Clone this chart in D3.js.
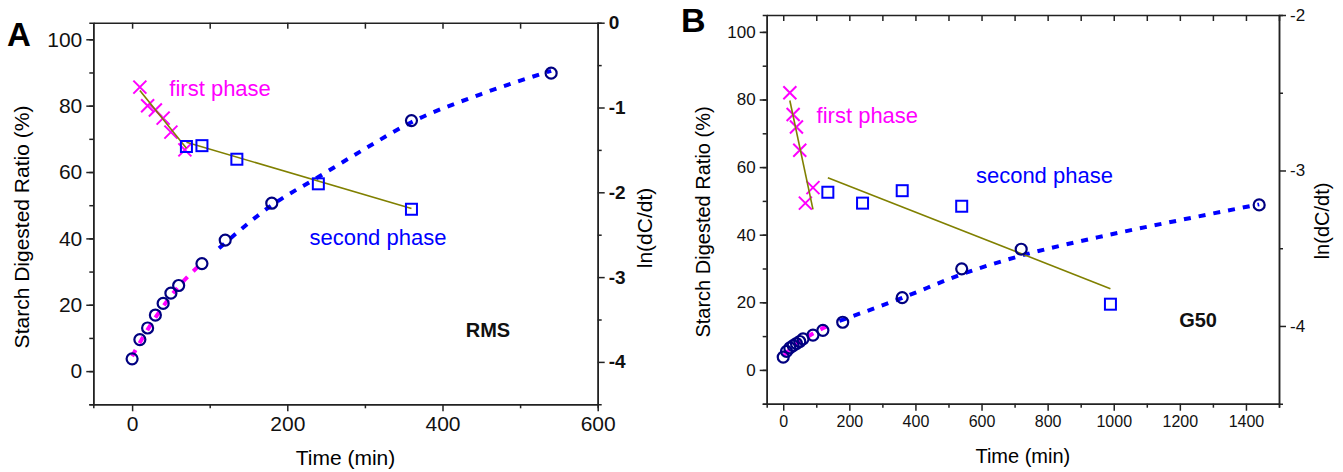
<!DOCTYPE html>
<html>
<head>
<meta charset="utf-8">
<script src="https://cdn.jsdelivr.net/npm/d3@7"></script>
<style>
  body { margin: 0; background: #fff; }
  svg { font-family: "Liberation Sans", Arial, sans-serif; }
</style>
</head>
<body>
<svg width="1343" height="472"></svg>
<script>
// ---- panel A (RMS) ----
var timeA = [0, 10, 20, 30, 40, 50, 60, 90, 120, 180, 360, 540];
var ratioA = [3.7, 9.5, 13, 16.9, 20.4, 23.5, 25.8, 32.4, 39.5, 50.6, 75.5, 89.8];
var crossTimeA = [10, 20, 30, 40, 50, 68];
var crossLnA = [-0.76, -0.98, -1.03, -1.125, -1.29, -1.5];
var squareTimeA = [70, 90, 135, 240, 360];
var squareLnA = [-1.46, -1.45, -1.61, -1.90, -2.20];
var fit1TimeA = [10, 70], fit1LnA = [-0.80, -1.48];
var fit2TimeA = [70, 360], fit2LnA = [-1.41, -2.19];
var dashPinkTimeA = [0, 20, 40, 60, 85];
var dashPinkRatioA = [4.5, 12.5, 19.5, 25.5, 31.5];
var dashBlueTimeA = [112, 180, 240, 300, 360, 450, 540];
var dashBlueRatioA = [37, 50, 58.5, 67, 75, 83.5, 90.5];

// ---- panel B (G50) ----
var timeB = [0, 10, 20, 30, 40, 50, 60, 90, 120, 180, 360, 540, 720, 1440];
var ratioB = [3.8, 5.5, 6.5, 7.2, 7.8, 8.4, 9.2, 10.3, 11.7, 14.1, 21.4, 29.9, 35.7, 48.8];
var crossTimeB = [20, 30, 40, 50, 67, 90];
var crossLnB = [-2.50, -2.64, -2.72, -2.87, -3.21, -3.11];
var squareTimeB = [135, 240, 360, 540, 990];
var squareLnB = [-3.14, -3.21, -3.13, -3.23, -3.86];
var fit1TimeB = [20, 90], fit1LnB = [-2.55, -3.25];
var fit2TimeB = [135, 990], fit2LnB = [-3.046, -3.76];
var dashPinkTimeB = [2, 30, 60, 90, 130];
var dashPinkRatioB = [4.3, 6.9, 9.0, 10.8, 12.8];
var dashBlueTimeB = [170, 360, 540, 720, 950, 1200, 1440];
var dashBlueRatioB = [14.5, 21.3, 28.3, 33.8, 39.2, 44.3, 49];

var svg = d3.select("svg");

function zip(a, b) { return a.map(function(v, i) { return [v, b[i]]; }); }
// plain hyphen minus, no thousands comma
function plain(d) { return String(d); }

function drawPanel(p) {
  var x = d3.scaleLinear().domain(p.xDomain).range([p.left, p.right]);
  var y = d3.scaleLinear().domain([-10, 105]).range([p.bottom, p.top]);
  var y2 = d3.scaleLinear().domain(p.y2Domain).range([p.bottom, p.top]);
  var g = svg.append("g");

  // axes
  g.append("g").attr("transform", "translate(0," + p.bottom + ")")
    .call(d3.axisBottom(x).tickValues(p.xMinor).tickSize(4).tickFormat(""));
  var bottom = g.append("g").attr("transform", "translate(0," + p.bottom + ")")
    .call(d3.axisBottom(x).tickValues(p.xMajor).tickSizeInner(7).tickSizeOuter(0).tickPadding(5).tickFormat(plain));
  bottom.selectAll("text").style("font-size", p.xFont + "px");

  g.append("g").attr("transform", "translate(0," + p.top + ")")
    .call(d3.axisTop(x).tickValues(p.xMajor.concat(p.xMinor)).tickSizeInner(-6).tickSizeOuter(0).tickFormat(""));

  g.append("g").attr("transform", "translate(" + p.left + ",0)")
    .call(d3.axisLeft(y).tickValues(d3.range(-10, 101, 10)).tickSize(4).tickFormat(""));
  var left = g.append("g").attr("transform", "translate(" + p.left + ",0)")
    .call(d3.axisLeft(y).tickValues([0, 20, 40, 60, 80, 100]).tickSizeInner(7).tickSizeOuter(0).tickPadding(4).tickFormat(plain));
  left.selectAll("text").style("font-size", p.yFont + "px");

  g.append("g").attr("transform", "translate(" + p.right + ",0)")
    .call(d3.axisRight(y2).tickValues(p.y2Minor).tickSize(4).tickFormat(""));
  var right = g.append("g").attr("transform", "translate(" + p.right + ",0)")
    .call(d3.axisRight(y2).tickValues(p.y2Major).tickSizeInner(7).tickSizeOuter(0).tickPadding(4).tickFormat(plain));
  right.selectAll("text").style("font-size", p.y2Font + "px").style("font-weight", p.y2Bold ? "bold" : "normal");

  g.selectAll(".domain, .tick line").attr("stroke", "#222").attr("stroke-width", 1.5);
  g.selectAll(".tick text").attr("fill", "#111").style("font-family", "'Liberation Sans', Arial, sans-serif");

  // axis titles
  g.append("text").attr("x", (p.left + p.right) / 2).attr("y", p.xTitleY)
    .attr("text-anchor", "middle").style("font-size", p.titleFont + "px").text("Time (min)");
  g.append("text").attr("transform", "translate(" + p.yTitleX + "," + p.yTitleMid + ") rotate(-90)")
    .attr("text-anchor", "middle").attr("dy", "0.35em").style("font-size", p.titleFont + "px")
    .text("Starch Digested Ratio (%)");
  g.append("text").attr("transform", "translate(" + p.y2TitleX + "," + p.y2TitleMid + ") rotate(-90)")
    .attr("text-anchor", "middle").attr("dy", "0.35em").style("font-size", p.titleFont + "px")
    .text("ln(dC/dt)");

  // panel letter
  g.append("text").attr("x", p.letterX).attr("y", p.letterY)
    .style("font-size", p.letterFont + "px").style("font-weight", "bold").text(p.letter);

  // dashed fits
  var line = d3.line().x(function(d) { return x(d[0]); }).y(function(d) { return y(d[1]); })
    .curve(d3.curveMonotoneX);
  g.append("path").datum(p.dashPink).attr("d", line).attr("fill", "none")
    .attr("stroke", "#ff00ff").attr("stroke-width", 4).attr("stroke-dasharray", "7,8");
  g.append("path").datum(p.dashBlue).attr("d", line).attr("fill", "none")
    .attr("stroke", "#0000ff").attr("stroke-width", 4).attr("stroke-dasharray", "7,8");

  // crosses (ln axis)
  g.selectAll(".cross").data(p.crosses).enter().append("path")
    .attr("d", "M-6.5,-6.5L6.5,6.5M-6.5,6.5L6.5,-6.5")
    .attr("transform", function(d) { return "translate(" + x(d[0]) + "," + y2(d[1]) + ")"; })
    .attr("stroke", "#ff00ff").attr("stroke-width", 2).attr("fill", "none");

  // linear fits on ln axis
  [p.fit1, p.fit2].forEach(function(f) {
    g.append("line")
      .attr("x1", x(f[0][0])).attr("y1", y2(f[0][1]))
      .attr("x2", x(f[1][0])).attr("y2", y2(f[1][1]))
      .attr("stroke", "#808000").attr("stroke-width", 1.6);
  });

  // squares
  g.selectAll(".sq").data(p.squares).enter().append("rect")
    .attr("x", function(d) { return x(d[0]) - 5.5; })
    .attr("y", function(d) { return y2(d[1]) - 5.5; })
    .attr("width", 11).attr("height", 11)
    .attr("fill", "none").attr("stroke", "#0000ff").attr("stroke-width", 2);

  // circles
  g.selectAll(".pt").data(p.circles).enter().append("circle")
    .attr("cx", function(d) { return x(d[0]); })
    .attr("cy", function(d) { return y(d[1]); })
    .attr("r", 5.5).attr("fill", "none").attr("stroke", "#000080").attr("stroke-width", 2.2);

  // annotations
  g.append("text").attr("x", x(p.firstLabel[0])).attr("y", y(p.firstLabel[1]))
    .style("font-size", "22px").attr("fill", "#ff00ff").text("first phase");
  g.append("text").attr("x", x(p.secondLabel[0])).attr("y", y(p.secondLabel[1]))
    .style("font-size", "22px").attr("fill", "#0000ff").text("second phase");
  g.append("text").attr("x", x(p.nameLabel[0])).attr("y", y(p.nameLabel[1]))
    .style("font-size", "20px").style("font-weight", "bold").attr("fill", "#111").text(p.name);
}

drawPanel({
  letter: "A", letterX: 7, letterY: 46, letterFont: 33, name: "RMS",
  left: 93.3, right: 597.7, top: 22.7, bottom: 404.3,
  xDomain: [-50, 600], xMajor: [0, 200, 400, 600], xMinor: [100, 300, 500],
  y2Domain: [-4.5, 0], y2Major: [0, -1, -2, -3, -4], y2Minor: [-0.5, -1.5, -2.5, -3.5],
  y2Bold: true, xFont: 21, yFont: 21, y2Font: 19, titleFont: 21,
  xTitleY: 465, yTitleX: 22, yTitleMid: 227, y2TitleX: 645, y2TitleMid: 228,
  circles: zip(timeA, ratioA), crosses: zip(crossTimeA, crossLnA), squares: zip(squareTimeA, squareLnA),
  fit1: zip(fit1TimeA, fit1LnA), fit2: zip(fit2TimeA, fit2LnA),
  dashPink: zip(dashPinkTimeA, dashPinkRatioA), dashBlue: zip(dashBlueTimeA, dashBlueRatioA),
  firstLabel: [48, 83], secondLabel: [228.5, 38], nameLabel: [430, 10.4]
});

drawPanel({
  letter: "B", letterX: 681, letterY: 32, letterFont: 34, name: "G50",
  left: 766.7, right: 1279, top: 15, bottom: 403.7,
  xDomain: [-50, 1500], xMajor: [0, 200, 400, 600, 800, 1000, 1200, 1400],
  xMinor: [100, 300, 500, 700, 900, 1100, 1300, 1500],
  y2Domain: [-4.5, -2], y2Major: [-2, -3, -4], y2Minor: [-2.5, -3.5],
  y2Bold: false, xFont: 16, yFont: 17, y2Font: 17, titleFont: 20,
  xTitleY: 463, yTitleX: 703, yTitleMid: 222, y2TitleX: 1322, y2TitleMid: 221,
  circles: zip(timeB, ratioB), crosses: zip(crossTimeB, crossLnB), squares: zip(squareTimeB, squareLnB),
  fit1: zip(fit1TimeB, fit1LnB), fit2: zip(fit2TimeB, fit2LnB),
  dashPink: zip(dashPinkTimeB, dashPinkRatioB), dashBlue: zip(dashBlueTimeB, dashBlueRatioB),
  firstLabel: [101, 73], secondLabel: [583, 55.2], nameLabel: [1198, 12.8]
});
</script>
</body>
</html>
